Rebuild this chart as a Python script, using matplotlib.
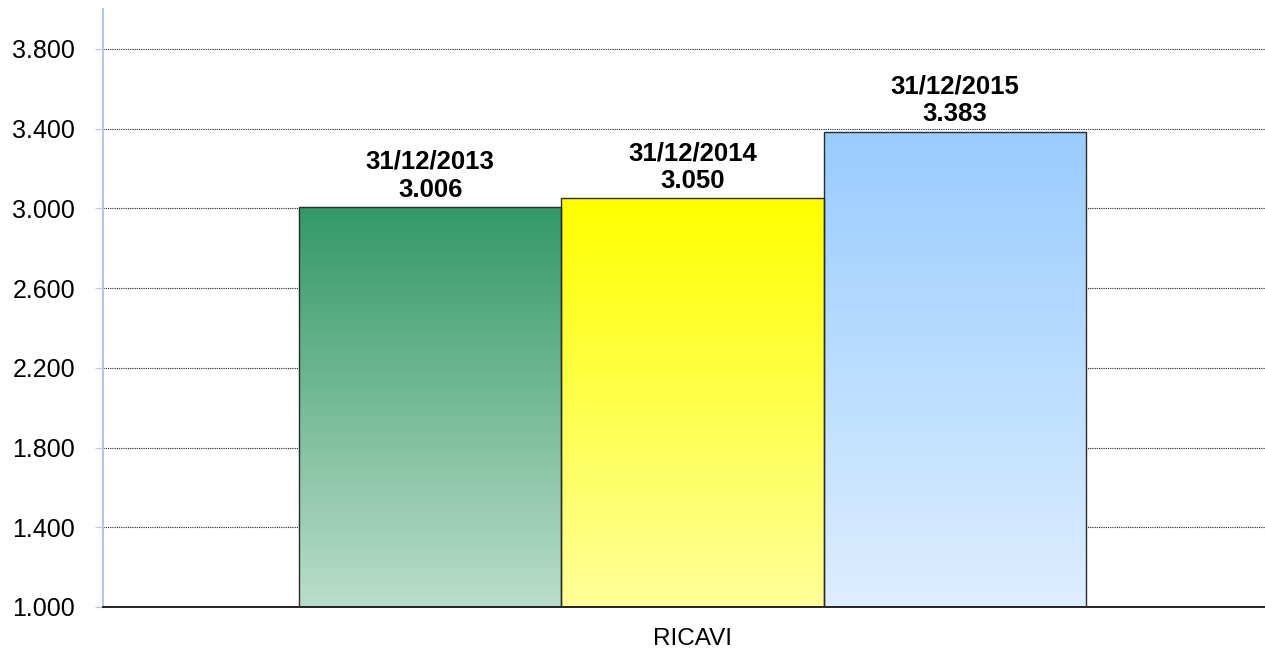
import numpy as np
from matplotlib import pyplot as plt
from matplotlib.colors import LinearSegmentedColormap

plt.rcParams['font.family'] = ['Liberation Sans', 'DejaVu Sans']

# --- data
category = 'RICAVI'
dates = ['31/12/2013', '31/12/2014', '31/12/2015']
values = [3006, 3050, 3383]
y_ticks = [1000, 1400, 1800, 2200, 2600, 3000, 3400, 3800]

# gradient colours (top, bottom) for each bar
grad_top = ['#339966', '#FFFF00', '#99CCFF']
grad_bottom = ['#BBDDCC', '#FFFF99', '#DDEEFF']


def fmt(v):
  # Italian style thousands separator
  return '{:,.0f}'.format(v).replace(',', '.')


fig = plt.figure(figsize=(12.65, 6.5), dpi=100)
ax = fig.add_axes([103 / 1265, 43 / 650, 1179 / 1265, 598 / 650])

ymin, ymax = 1000, 4000
x = np.arange(len(values))

for i, v in enumerate(values):
  bars = ax.bar(x[i], v - ymin, bottom=ymin, width=1.0, facecolor='none',
                edgecolor='#2b2b2b', linewidth=1.0, zorder=3)
  cmap = LinearSegmentedColormap.from_list('g%d' % i, [grad_bottom[i], grad_top[i]])
  grad = np.linspace(0, 1, 256).reshape(-1, 1)
  img = ax.imshow(grad, cmap=cmap, aspect='auto', origin='lower',
                  extent=(x[i] - 0.5, x[i] + 0.5, ymin, v), zorder=2)
  img.set_clip_path(bars[0])
  ax.annotate(dates[i] + '\n' + fmt(v), (x[i], v), xytext=(0, 4),
              textcoords='offset points', ha='center', va='bottom',
              fontsize=18.5, fontweight='bold', linespacing=1.2, zorder=4)

ax.set_aspect('auto')
ax.set_ylim(ymin, ymax)
ax.set_xlim(-1.247, 3.247)

ax.set_yticks(y_ticks)
ax.set_yticklabels([fmt(t) for t in y_ticks], fontsize=18)
ax.yaxis.grid(True, linestyle=(0, (1, 1)), color='#222222', linewidth=0.8, zorder=1)
ax.set_axisbelow(True)

ax.set_xticks([1])
ax.set_xticklabels([category], fontsize=17.5)
ax.tick_params(axis='x', length=0, pad=15)
ax.tick_params(axis='y', length=6, color='#B4C7E7', pad=14)

for s in ['top', 'right']:
  ax.spines[s].set_visible(False)
ax.spines['left'].set_color('#B4C7E7')
ax.spines['left'].set_linewidth(1.5)
ax.spines['bottom'].set_color('black')
ax.spines['bottom'].set_linewidth(1.2)

plt.savefig('out.png', dpi=100)
